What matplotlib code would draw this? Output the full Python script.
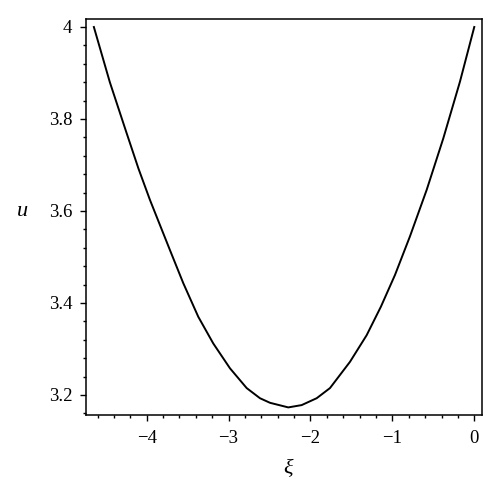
"""Recreate the u(xi) curve plot: a single U-shaped curve on a boxed axes."""

import matplotlib

matplotlib.use("Agg")
import matplotlib.pyplot as plt
from matplotlib.ticker import MultipleLocator

# Points (xi, u).
xi = [-4.645, -4.45, -4.25, -4.10, -3.96, -3.716, -3.553, -3.370, -3.187,
      -2.983, -2.779, -2.617, -2.494, -2.271, -2.108, -1.924, -1.762, -1.518,
      -1.314, -1.14, -0.968, -0.785, -0.581, -0.378, -0.175, 0.0]
u = [4.000, 3.880, 3.772, 3.692, 3.624, 3.515, 3.443, 3.370, 3.312,
     3.258, 3.215, 3.193, 3.183, 3.173, 3.178, 3.193, 3.215, 3.272,
     3.330, 3.392, 3.461, 3.545, 3.646, 3.758, 3.881, 4.000]

x_ticks = [-4, -3, -2, -1, 0]
y_ticks = [3.2, 3.4, 3.6, 3.8, 4]
y_tick_labels = ["3.2", "3.4", "3.6", "3.8", "4"]

plt.rcParams["font.family"] = ["Liberation Serif", "DejaVu Serif"]

fig = plt.figure(figsize=(5.0, 4.97), dpi=100)
ax = fig.add_axes([0.172, 0.165, 0.7926, 0.7968])

ax.plot(xi, u, color="black", linewidth=1.4)

ax.set_xlim(-4.741, 0.098)
ax.set_ylim(3.1565, 4.0174)
ax.set_xticks(x_ticks)
ax.set_yticks(y_ticks)
ax.set_yticklabels(y_tick_labels)
ax.xaxis.set_minor_locator(MultipleLocator(0.2))
ax.yaxis.set_minor_locator(MultipleLocator(0.04))

ax.tick_params(which="both", direction="out", top=False, right=False,
               colors="black", width=1)
ax.tick_params(which="major", length=4, labelsize=13.5)
ax.tick_params(axis="x", which="major", pad=7)
ax.tick_params(axis="y", which="major", pad=6)
ax.tick_params(which="minor", length=2)

for spine in ax.spines.values():
    spine.set_linewidth(1.1)
    spine.set_color("black")

fig.text(22 / 500, 1 - 211 / 497, "u", fontsize=16, style="italic",
         ha="center", va="center")
fig.text(288 / 500, 1 - 470 / 497, "ξ", fontsize=16, style="italic",
         ha="center", va="center")

fig.savefig("out.png", dpi=100)
